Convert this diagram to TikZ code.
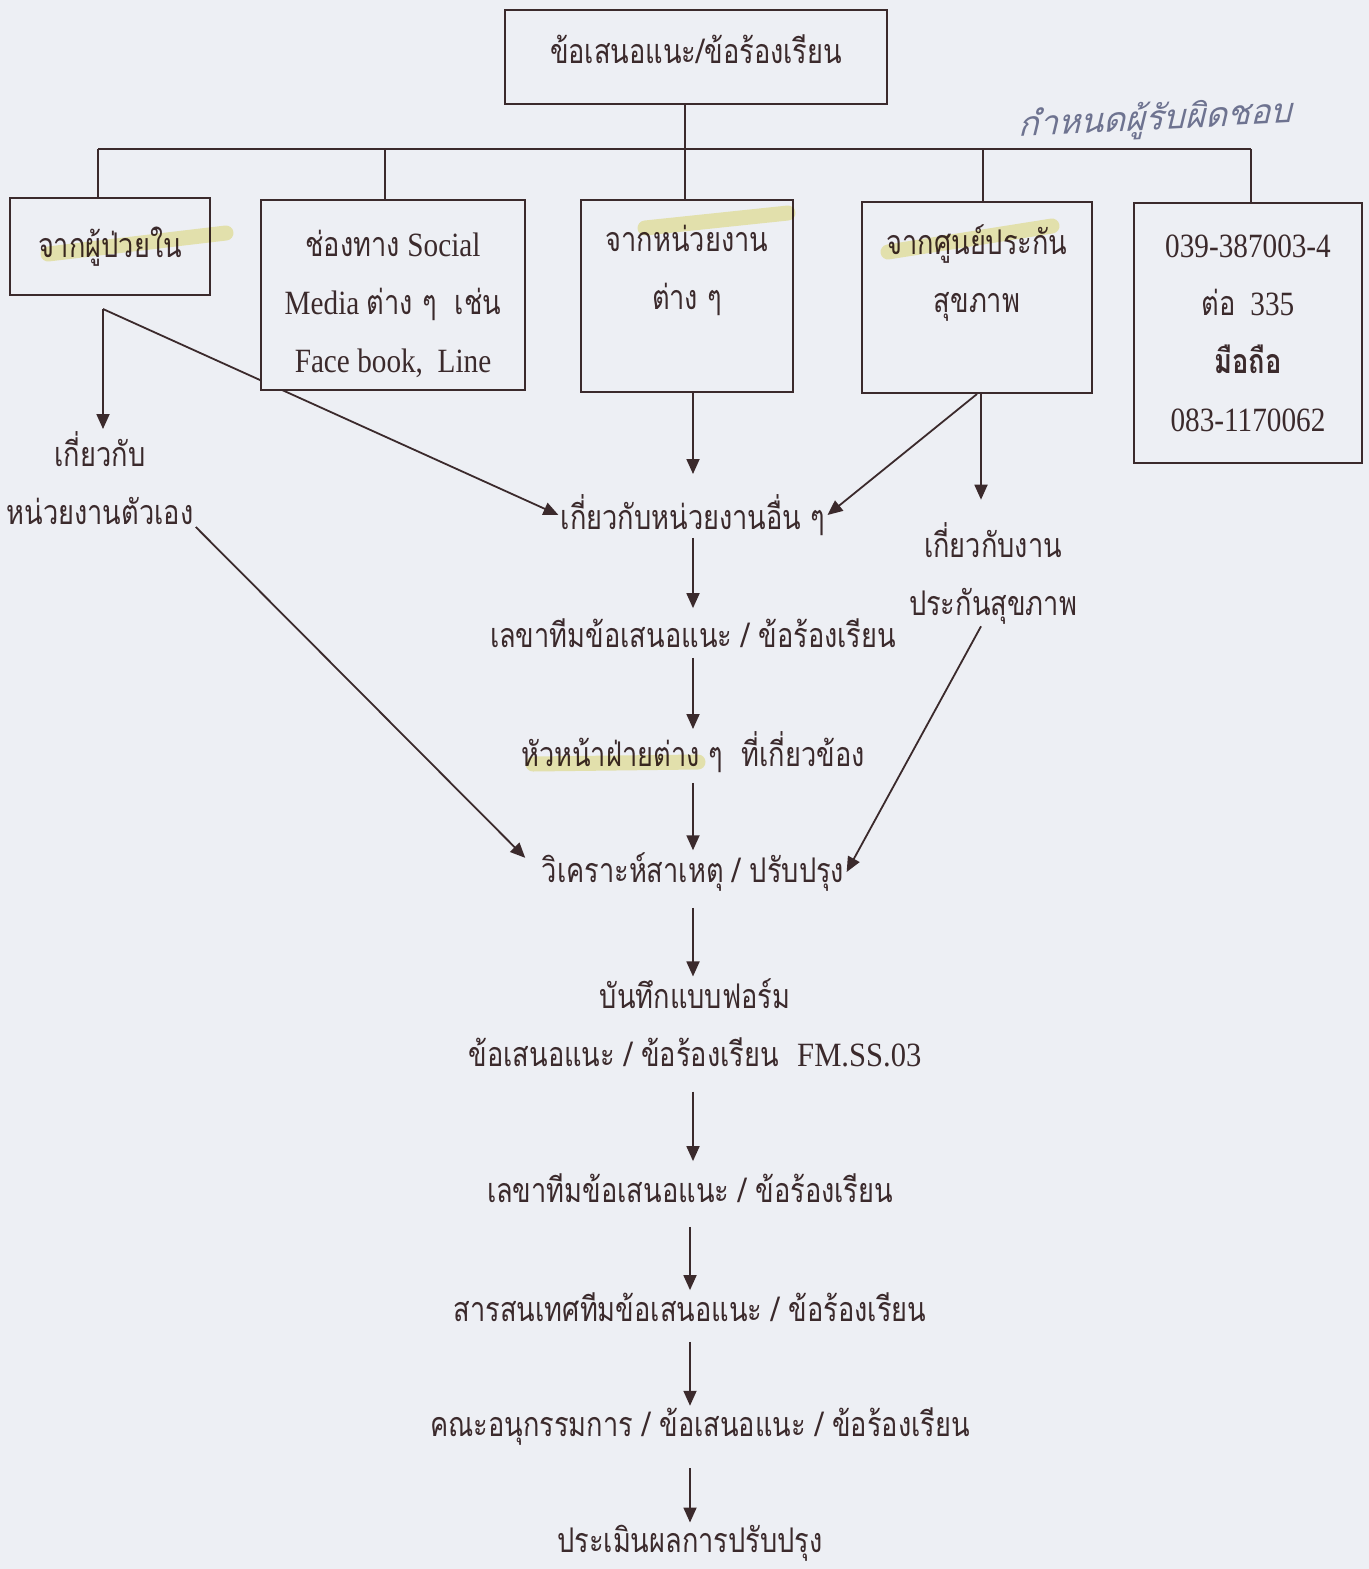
\documentclass[tikz,border=0pt]{standalone}
\usepackage{fontspec}
\setmainfont{Liberation Serif}[FakeStretch=0.86]
\newfontfamily\thA[Script=Thai,FakeStretch=0.8]{Loma}
\newfontfamily\latB{Liberation Serif}[FakeStretch=0.9]
\newfontfamily\hand[Script=Thai,FakeSlant=0.3]{Loma}
\newcommand{\tha}[1]{{\thA #1}}
\usetikzlibrary{arrows.meta,backgrounds}

\definecolor{paper}{HTML}{EDEFF4}
\definecolor{ink}{HTML}{3B2A2C}
\definecolor{marker}{HTML}{F4F0B4}
\definecolor{pen}{HTML}{6E7390}

\tikzset{
  box/.style={draw=ink, line width=1pt, fill=paper, inner sep=0pt, align=center, text=ink,
    font=\thA\fontsize{17pt}{29pt}\selectfont},
  mixbox/.style={box, font=\fontsize{17pt}{29pt}\selectfont},
  txt/.style={text=ink, inner sep=1pt, align=center, font=\thA\fontsize{17pt}{29pt}\selectfont},
  link/.style={draw=ink, line width=0.9pt},
  flow/.style={link, -{Triangle[length=7.5pt,width=6.5pt]}},
  hl/.style={marker, line width=7.5pt, line cap=round},
}

\begin{document}
\begin{tikzpicture}[x=0.5pt,y=-0.5pt]
  \useasboundingbox (0,0) rectangle (1369,1569);

  % top box and the five sources
  \node[box, minimum width=191pt, minimum height=47pt] (top) at (696,57) {\raisebox{7.5pt}{ข้อเสนอแนะ/ข้อร้องเรียน}};
  \node[box, minimum width=100pt, minimum height=48.5pt] (b1) at (110,246.5) {\raisebox{2.5pt}{จากผู้ป่วยใน}};
  \node[mixbox, minimum width=132pt, minimum height=95pt] (b2) at (393,295) {\rule{0pt}{22pt}\tha{ช่องทาง} Social\\Media \tha{ต่าง ๆ~~เช่น}\\Face book,~~Line};
  \node[box, minimum width=106pt, minimum height=96pt] (b3) at (687,296) {จากหน่วยงาน\\ต่าง ๆ\\\mbox{}};
  \node[box, minimum width=115pt, minimum height=95.5pt] (b4) at (977,297.5) {จากศูนย์ประกัน\\สุขภาพ\\\mbox{}};
  \node[mixbox, minimum width=114pt, minimum height=130pt] (b5) at (1248,333) {039-387003-4\\\tha{ต่อ}~~335\\\tha{\bfseries มือถือ}\\083-1170062};

  % handwritten note
  \node[text=pen, font=\hand\fontsize{17pt}{17pt}\selectfont, rotate=3] (note) at (1155,120) {กำหนดผู้รับผิดชอบ};

  % bus
  \coordinate (bus) at (685,149);
  \coordinate (busL) at (98,149);
  \coordinate (busR) at (1251,149);
  \draw[link] ([xshift=-5.5pt]top.south) -- ([xshift=-5.5pt]top.south |- bus);
  \draw[link] (busL) -- (busR);
  \foreach \b/\d in {b1/-6pt,b2/-4pt,b3/-1pt,b4/3pt,b5/1.5pt}
    \draw[link] ([xshift=\d]\b.north) -- ([xshift=\d]\b.north |- bus);

  % texts of the flow
  \coordinate (axis) at (693,0);
  \coordinate (axisB) at (690,0);
  \coordinate (insx) at (981,0);
  \coordinate (corner) at (103,309);
  \node[txt] (own) at (100,478) {เกี่ยวกับ\\หน่วยงานตัวเอง};
  \node[txt] (other) at (693,515) {เกี่ยวกับหน่วยงานอื่น ๆ};
  \node[txt] (ins) at (993,573) {เกี่ยวกับงาน\\ประกันสุขภาพ};
  \node[txt] (sec) at (693,633) {เลขาทีมข้อเสนอแนะ / ข้อร้องเรียน};
  \node[txt] (head) at (693,752) {หัวหน้าฝ่ายต่าง ๆ~~ที่เกี่ยวข้อง};
  \node[txt] (fix) at (693,872) {วิเคราะห์สาเหตุ / ปรับปรุง};
  \node[txt] (form) at (695,1023) {บันทึกแบบฟอร์ม\\ข้อเสนอแนะ / ข้อร้องเรียน~~{\latB FM.SS.03}};
  \node[txt] (sec2) at (690,1188) {เลขาทีมข้อเสนอแนะ / ข้อร้องเรียน};
  \node[txt] (info) at (690,1307) {สารสนเทศทีมข้อเสนอแนะ / ข้อร้องเรียน};
  \node[txt] (comm) at (700,1427) {คณะอนุกรรมการ / ข้อเสนอแนะ / ข้อร้องเรียน};
  \node[txt] (eval) at (690,1543) {ประเมินผลการปรับปรุง};

  % arrows
  \draw[flow] (corner) -- (own.north -| corner);
  \draw[flow, shorten >=9pt] (b3.south -| axis) -- (other.north -| axis);
  \draw[flow] (b4.south) -- (other.east);
  \draw[flow, shorten >=10pt] (b4.south -| insx) -- (ins.north -| insx);
  \draw[flow, shorten >=10pt] (own.south east) -- (fix.west);
  \draw[flow] ([xshift=-6pt]ins.south) -- (fix.east);
  \draw[flow, shorten >=4pt] (other.south -| axis) -- (sec.north -| axis);
  \draw[flow, shorten <=4pt] (sec.south -| axis) -- (head.north -| axis);
  \draw[flow, shorten <=4pt] (head.south -| axis) -- (fix.north -| axis);
  \draw[flow, shorten <=7pt] (fix.south -| axis) -- (form.north -| axis);
  \draw[flow, shorten <=11pt, shorten >=5pt] (form.south -| axis) -- (sec2.north -| axis);
  \draw[flow, shorten <=11pt] (sec2.south -| axisB) -- (info.north -| axisB);
  \draw[flow, shorten <=9pt] (info.south -| axisB) -- (comm.north -| axisB);
  \draw[flow, shorten <=10pt] (comm.south -| axisB) -- (eval.north -| axisB);

  % marker strokes
  \begin{scope}[blend mode=multiply]
    \draw[hl] (48,254) -- (226,233);
    \draw[hl] (645,228) -- (788,213);
    \draw[hl] (888,252) -- (1052,226);
    \draw[hl] (533,764) -- (698,762);
  \end{scope}

  % paper and the line that runs under the social media box
  \begin{pgfonlayer}{background}
    \fill[paper] (0,0) rectangle (1369,1569);
    \draw[flow] (corner) -- (other.west);
  \end{pgfonlayer}
\end{tikzpicture}
\end{document}
